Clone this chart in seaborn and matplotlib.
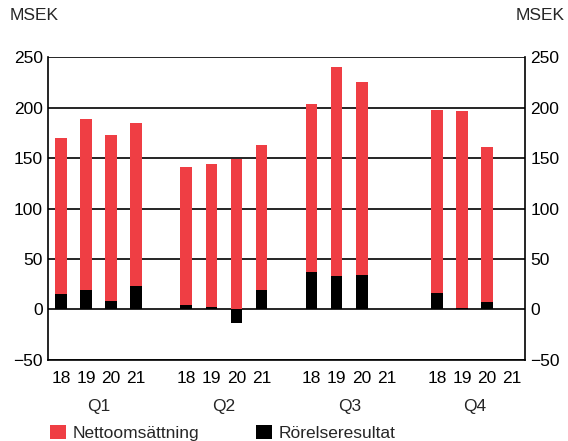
import matplotlib
matplotlib.use("Agg")
import matplotlib.pyplot as plt
import matplotlib.transforms as mtransforms
from matplotlib.patches import Patch
import seaborn as sns
import pandas as pd

quarters = ["Q1", "Q2", "Q3", "Q4"]
years = ["18", "19", "20", "21"]
netto = [170, 189, 173, 185,
         141, 144, 149, 163,
         204, 240, 226, None,
         198, 197, 161, None]
rorelse = [15, 19, 8, 23,
           4, 2, -13, 19,
           37, 33, 34, None,
           16, 1, 7, None]
yticks = [-50, 0, 50, 100, 150, 200, 250]

RED = "#EF3E44"
FONT = ["Liberation Sans", "DejaVu Sans"]

sns.set_theme(style="white")
plt.rcParams["font.family"] = FONT
plt.rcParams["font.size"] = 12.5

rows = []
for gi, q in enumerate(quarters):
    for yi, y in enumerate(years):
        k = gi * 4 + yi
        rows.append({"pos": gi * 5 + yi, "quarter": q, "year": y,
                     "netto": netto[k], "rorelse": rorelse[k]})
df = pd.DataFrame(rows)
dfv = df.dropna(subset=["netto"])

fig = plt.figure(figsize=(5.68, 4.41), dpi=100)
ax = fig.add_axes([0.085, 0.184, 0.839, 0.686])

sns.barplot(data=dfv, x="pos", y="netto", native_scale=True, color=RED,
            width=0.46, saturation=1, ax=ax, zorder=3, errorbar=None,
            linewidth=0, edgecolor="none")
sns.barplot(data=dfv, x="pos", y="rorelse", native_scale=True, color="black",
            width=0.46, saturation=1, ax=ax, zorder=4, errorbar=None,
            linewidth=0, edgecolor="none")

ax.set_xlim(-0.5, 18.5)
ax.set_ylim(-50, 250)
ax.set_yticks(yticks)
ax.set_yticklabels([str(v).replace("-", "\u2212") for v in yticks])
ax.set_xticks(df["pos"].tolist())
ax.set_xticklabels(df["year"].tolist())
ax.set_xlabel("")
ax.set_ylabel("")

ax.yaxis.grid(True, color="black", linewidth=1.2, zorder=1)
ax.set_axisbelow(True)
ax.xaxis.grid(False)

for s in ["left", "right", "bottom"]:
    ax.spines[s].set_visible(True)
    ax.spines[s].set_color("black")
    ax.spines[s].set_linewidth(1.2)
ax.spines["top"].set_visible(False)

ax.tick_params(axis="y", length=0, pad=4, labelleft=True, labelright=True,
               labelsize=12.5, colors="black")
ax.tick_params(axis="x", length=0, pad=8, labelsize=12.5, colors="black")

trans = mtransforms.blended_transform_factory(ax.transData, fig.transFigure)
for gi, q in enumerate(quarters):
    ax.text(gi * 5 + 1.5, 1 - 406 / 441, q, transform=trans, ha="center",
            va="center", fontsize=12.5)

fig.text(10 / 568, 1 - 16 / 441, "MSEK", ha="left", va="center", fontsize=12.5)
fig.text(565 / 568, 1 - 16 / 441, "MSEK", ha="right", va="center", fontsize=12.5)

handles = [Patch(facecolor=RED, edgecolor="none", label="Nettoomsättning"),
           Patch(facecolor="black", edgecolor="none", label="Rörelseresultat")]
fig.legend(handles=handles, loc="center left",
           bbox_to_anchor=(50 / 568, 1 - 433 / 441), ncol=2, frameon=False,
           handlelength=0.9, handleheight=0.9, handletextpad=0.4,
           columnspacing=3.3, fontsize=12.5, borderaxespad=0, borderpad=0)

fig.savefig("out.png", dpi=100)
